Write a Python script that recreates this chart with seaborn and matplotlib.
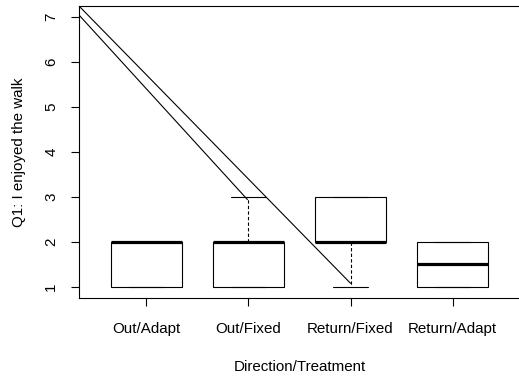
import matplotlib
matplotlib.use("Agg")
import matplotlib.pyplot as plt
import seaborn as sns
import pandas as pd

# Likert responses (1-7) per direction/treatment group
groups = ["Out/Adapt", "Out/Fixed", "Return/Fixed", "Return/Adapt"]
out_adapt = [1, 1, 2, 2, 2]
out_fixed = [1, 1, 2, 2, 3]
return_fixed = [1, 2, 2, 3, 3]
return_adapt = [1, 1, 2, 2]

# Two straight reference lines drawn over the boxes (x in group index units)
line_a_x = [-0.66, 2.0]
line_a_y = [7.24, 1.08]
line_b_x = [-0.66, 0.99]
line_b_y = [7.04, 2.94]

y_ticks = [1, 2, 3, 4, 5, 6, 7]

rows = []
for name, vals in zip(groups, [out_adapt, out_fixed, return_fixed, return_adapt]):
    rows += [(name, v) for v in vals]
df = pd.DataFrame(rows, columns=["group", "score"])

sns.set_theme(style="white")
plt.rcParams["font.family"] = ["Liberation Sans", "DejaVu Sans"]

FS = 10.9
W, H = 519, 380
fig = plt.figure(figsize=(W / 100, H / 100), dpi=100)
left, right, top, bottom = 79, 520, 6, 297.7
ax = fig.add_axes([left / W, (H - bottom) / H, (right - left) / W, (bottom - top) / H])

sns.boxplot(
    data=df, x="group", y="score", order=groups, ax=ax,
    color="white", linecolor="black", linewidth=0.8, width=0.7,
    saturation=1, fliersize=0, whis=1.5,
    medianprops={"linewidth": 2.3, "color": "black", "solid_capstyle": "butt"},
    whiskerprops={"linestyle": (0, (3, 2)), "linewidth": 0.8},
)

ax.plot(line_a_x, line_a_y, color="black", linewidth=0.8)
ax.plot(line_b_x, line_b_y, color="black", linewidth=0.8)

ax.set_xlim(-0.66, 3.66)
ax.set_ylim(0.76, 7.24)
ax.set_yticks(y_ticks)
ax.set_yticklabels([str(t) for t in y_ticks], rotation=90, va="center")

for s in ["left", "bottom", "top"]:
    ax.spines[s].set_visible(True)
    ax.spines[s].set_color("black")
    ax.spines[s].set_linewidth(0.8)
ax.spines["right"].set_visible(False)

ax.tick_params(axis="both", which="major", direction="out", length=5.8, width=0.8,
               color="black", labelsize=FS, labelcolor="black",
               left=True, bottom=True)
ax.tick_params(axis="y", pad=9.2)
ax.tick_params(axis="x", pad=11.5)

ax.set_xlabel("Direction/Treatment", fontsize=FS, color="black", labelpad=17.5)
ax.set_ylabel("Q1: I enjoyed the walk", fontsize=FS, color="black", labelpad=13)

fig.savefig("out.png", dpi=100)
